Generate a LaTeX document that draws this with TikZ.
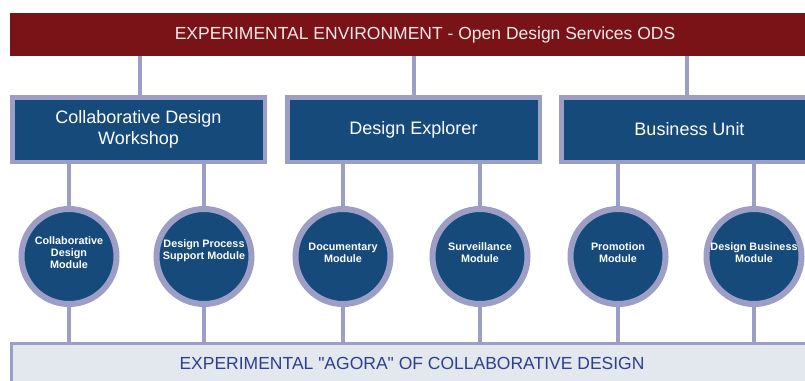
\documentclass[tikz,border=0pt]{standalone}
\usepackage{fontspec}
\setmainfont{Liberation Sans}
\newfontfamily\plainsans[Ligatures=TeXOff]{Liberation Sans}
\usetikzlibrary{backgrounds}
\definecolor{barred}{HTML}{7A1317}
\definecolor{boxblue}{HTML}{154A7B}
\definecolor{lav}{HTML}{9C9EC6}
\definecolor{agorafill}{HTML}{E3E8EE}
\definecolor{agoratext}{HTML}{2D4090}
\definecolor{toptext}{HTML}{F4EAEA}
\tikzset{
  topbar/.style={rectangle, fill=barred, minimum width=830pt, minimum height=43pt, inner sep=0pt,
    text=toptext, font=\fontsize{17.5}{20}\selectfont},
  unitbox/.style={rectangle, fill=boxblue, draw=lav, line width=4.5pt, minimum height=64.5pt,
    inner sep=0pt, text=white, align=center, font=\fontsize{18}{21}\selectfont},
  module/.style={circle, fill=boxblue, draw=lav, line width=6pt, minimum size=95pt, inner sep=0pt},
  modtext/.style={text=white, align=center, inner sep=0pt, font=\fontsize{10.8}{12}\selectfont\bfseries},
  agorabar/.style={rectangle, fill=agorafill, draw=lav, line width=3pt, minimum width=825pt,
    minimum height=53pt, inner sep=0pt},
  agoratxt/.style={text=agoratext, inner sep=0pt, font=\plainsans\fontsize{17.5}{20}\selectfont},
  link/.style={draw=lav, line width=4pt}
}
\begin{document}
\begin{tikzpicture}[x=1pt,y=-1pt]
\useasboundingbox (0,0) rectangle (805,380);
\clip (0,0) rectangle (805,380);
% top bar
\node[topbar] (top) at (425,34.5) {};
\node[text=toptext, inner sep=0pt, font=\fontsize{17.5}{20}\selectfont] (toptxt) at (425,34.5) {EXPERIMENTAL ENVIRONMENT - Open Design Services ODS};
% unit boxes
\node[unitbox, minimum width=252.5pt] (b1) at (138.5,129.5) {Collaborative Design\\Workshop};
\node[unitbox, minimum width=252.5pt] (b2) at (413.5,129.5) {Design Explorer};
\node[unitbox, minimum width=256.5pt] (b3) at (689.5,129.5) {Business Unit};
% modules
\node[module] (c1) at (69,256.5) {};
\node[module] (c2) at (204,256.5) {};
\node[module] (c3) at (343,256.5) {};
\node[module] (c4) at (480,256.5) {};
\node[module] (c5) at (618,256.5) {};
\node[module] (c6) at (754,256.5) {};
\node[modtext] (t1) at (69,252.5) {Collaborative\\Design\\Module};
\node[modtext] (t2) at (204,250.5) {Design Process\\Support Module};
\node[modtext] (t3) at (343,252.5) {Documentary\\Module};
\node[modtext] (t4) at (480,253) {Surveillance\\Module};
\node[modtext] (t5) at (618,253) {Promotion\\Module};
\node[modtext] (t6) at (754,253) {Design Business\\Module};
% agora bar
\node[agorabar] (agora) at (423.5,370) {};
\node[agoratxt] (agoratxt) at (412,363) {EXPERIMENTAL "AGORA" OF COLLABORATIVE DESIGN};
% connectors
\begin{pgfonlayer}{background}
\fill[white] (0,0) rectangle (805,380);
\draw[link] ([xshift=1.5pt]b1.north) -- ([xshift=1.5pt]b1.north |- top.south);
\draw[link] (b2.north) -- (b2.north |- top.south);
\draw[link] ([xshift=-2.5pt]b3.north) -- ([xshift=-2.5pt]b3.north |- top.south);
\foreach \c/\b in {c1/b1,c2/b1,c3/b2,c4/b2,c5/b3,c6/b3}{
  \draw[link] (\c.north) -- (\c.north |- \b.south);
  \draw[link] (\c.south) -- (\c.south |- agora.north);
}
\end{pgfonlayer}
\end{tikzpicture}
\end{document}
